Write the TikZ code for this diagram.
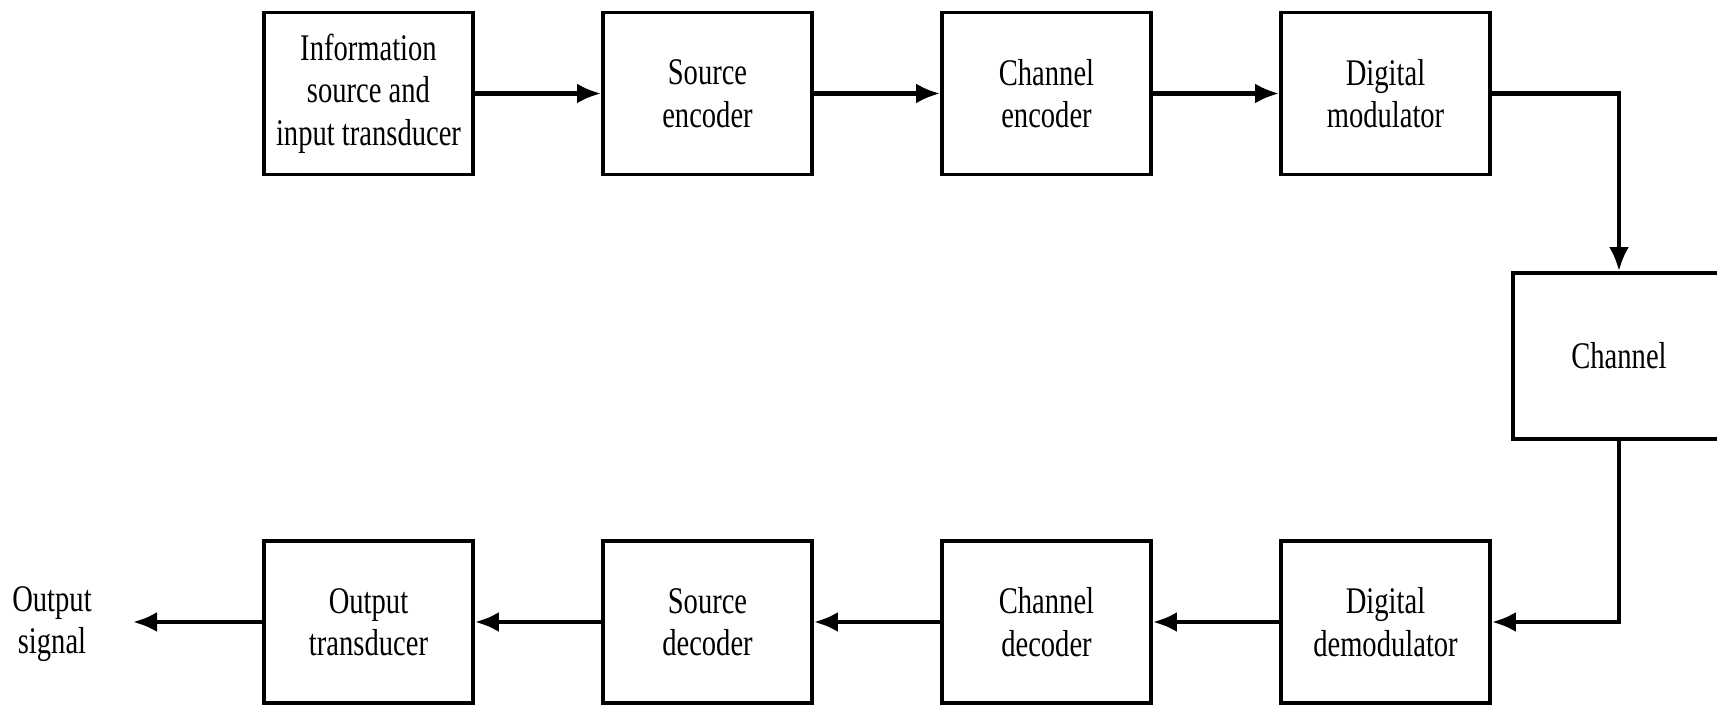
\documentclass[tikz,border=0pt]{standalone}
\usepackage{fontspec}
\setmainfont{Liberation Serif}[FakeStretch=0.76]
\usetikzlibrary{arrows.meta}
\tikzset{
  block/.style={draw,line width=1.1pt,minimum width=2.09cm,minimum height=1.62cm,align=center,
    font=\fontsize{10.7}{12.1}\selectfont},
  link/.style={line width=1.2pt,->},
}
\begin{document}
\begin{tikzpicture}[>={Latex[length=2.4mm,width=2mm]}]
\useasboundingbox (0,0) rectangle (17.17,7.04);
% transmitter
\node[block] (src) at (3.685,6.105) {Information\\source and\\input transducer};
\node[block] (senc) at (7.075,6.105) {Source\\encoder};
\node[block] (cenc) at (10.465,6.105) {Channel\\encoder};
\node[block] (mod) at (13.855,6.105) {Digital\\modulator};
% channel
\node[block,minimum width=2.12cm,minimum height=1.66cm] (chan) at (16.19,3.48) {Channel};
% receiver
\node[block] (demod) at (13.855,0.82) {Digital\\demodulator};
\node[block] (cdec) at (10.465,0.82) {Channel\\decoder};
\node[block] (sdec) at (7.075,0.82) {Source\\decoder};
\node[block] (out) at (3.685,0.82) {Output\\transducer};
\node[align=center,font=\fontsize{10.7}{12.1}\selectfont] (sig) at (0.52,0.80) {Output\\signal};
\coordinate (sigend) at (1.33,0.82);
\draw[link] (src) -- (senc);
\draw[link] (senc) -- (cenc);
\draw[link] (cenc) -- (mod);
\draw[link] (mod.east) -| (chan.north);
\draw[link] (chan.south) |- (demod.east);
\draw[link] (demod) -- (cdec);
\draw[link] (cdec) -- (sdec);
\draw[link] (sdec) -- (out);
\draw[link] (out) -- (sigend);
\end{tikzpicture}
\end{document}
